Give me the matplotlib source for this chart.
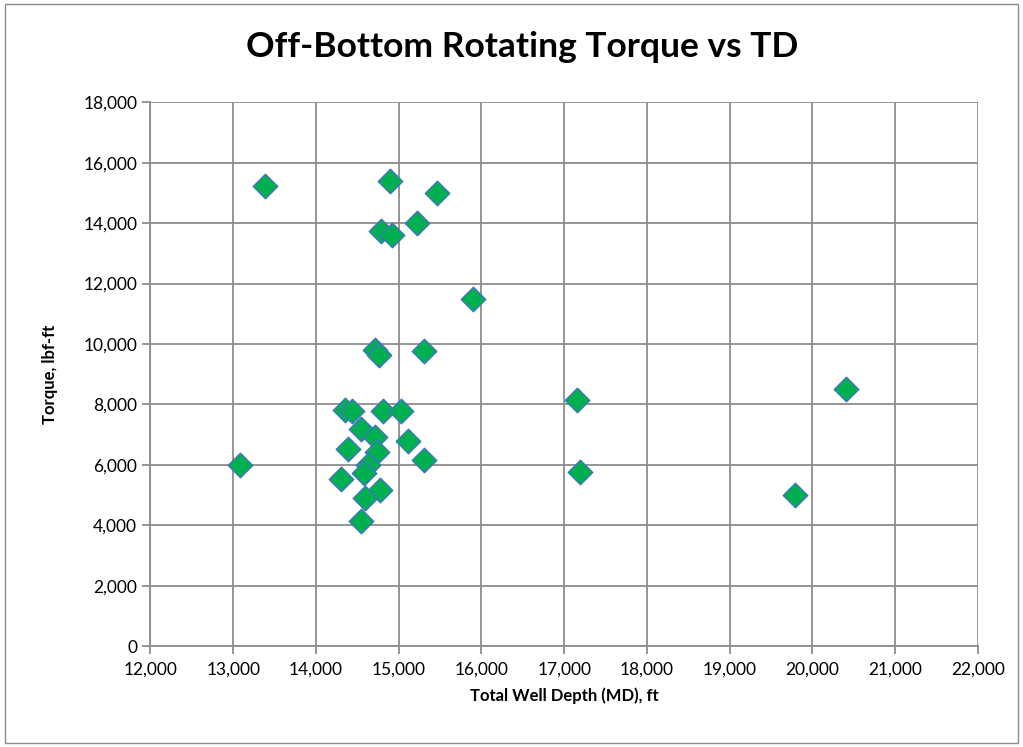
import matplotlib.pyplot as plt
from matplotlib.ticker import FuncFormatter, MultipleLocator
from matplotlib.patches import Rectangle

# Total well depth (MD, ft) and off-bottom rotating torque (lbf-ft)
depth = [13380, 14895, 15460, 15220, 14790, 14915, 15900,
         14710, 14765, 15310, 14355, 14435, 14808, 15024,
         14549, 14720, 15118, 14387, 14740, 15301, 14630,
         14577, 14305, 14780, 14589, 14549, 13085,
         17150, 17190, 19790, 20400]
torque = [15220, 15400, 15000, 14000, 13730, 13620, 11500,
          9800, 9640, 9780, 7820, 7790, 7800, 7800,
          7190, 6930, 6800, 6525, 6415, 6157, 5990,
          5720, 5530, 5185, 4915, 4130, 6000,
          8150, 5780, 5000, 8500]

plt.rcParams['font.family'] = ['Lato', 'DejaVu Sans']

fig = plt.figure(figsize=(10.23, 7.47), dpi=100)
ax = fig.add_axes([0.147, 0.135, 0.809, 0.728])

ax.scatter(depth, torque, marker='D', s=12.5**2, color='#00B050',
           edgecolors='#4472C4', linewidths=1.0, zorder=3)

ax.set_xlim(12000, 22000)
ax.set_ylim(0, 18000)
ax.xaxis.set_major_locator(MultipleLocator(1000))
ax.yaxis.set_major_locator(MultipleLocator(2000))
fmt = FuncFormatter(lambda v, p: f'{int(v):,}')
ax.xaxis.set_major_formatter(fmt)
ax.yaxis.set_major_formatter(fmt)

ax.grid(True, color='#8c8c8c', linewidth=1.3)
ax.set_axisbelow(True)
for side in ['top', 'right']:
    ax.spines[side].set_visible(False)
for side in ['left', 'bottom']:
    ax.spines[side].set_color('#8c8c8c')
    ax.spines[side].set_linewidth(1.3)
ax.tick_params(colors='#8c8c8c', labelcolor='black', labelsize=12.5,
               length=6, width=1.3, direction='out')
ax.tick_params(axis='x', pad=5)

ax.set_xlabel('Total Well Depth (MD), ft', fontsize=12, fontweight='bold', labelpad=7)
ax.set_ylabel('Torque, lbf-ft', fontsize=12, fontweight='bold', labelpad=18)
fig.text(0.51, 0.937, 'Off-Bottom Rotating Torque vs TD', ha='center', va='center',
         fontsize=25.5, fontweight='bold')

fig.patches.append(Rectangle((0.005, 0.006), 0.99, 0.988, transform=fig.transFigure,
                             fill=False, edgecolor='#8c8c8c', linewidth=1.0))

fig.savefig('out.png', dpi=100)
